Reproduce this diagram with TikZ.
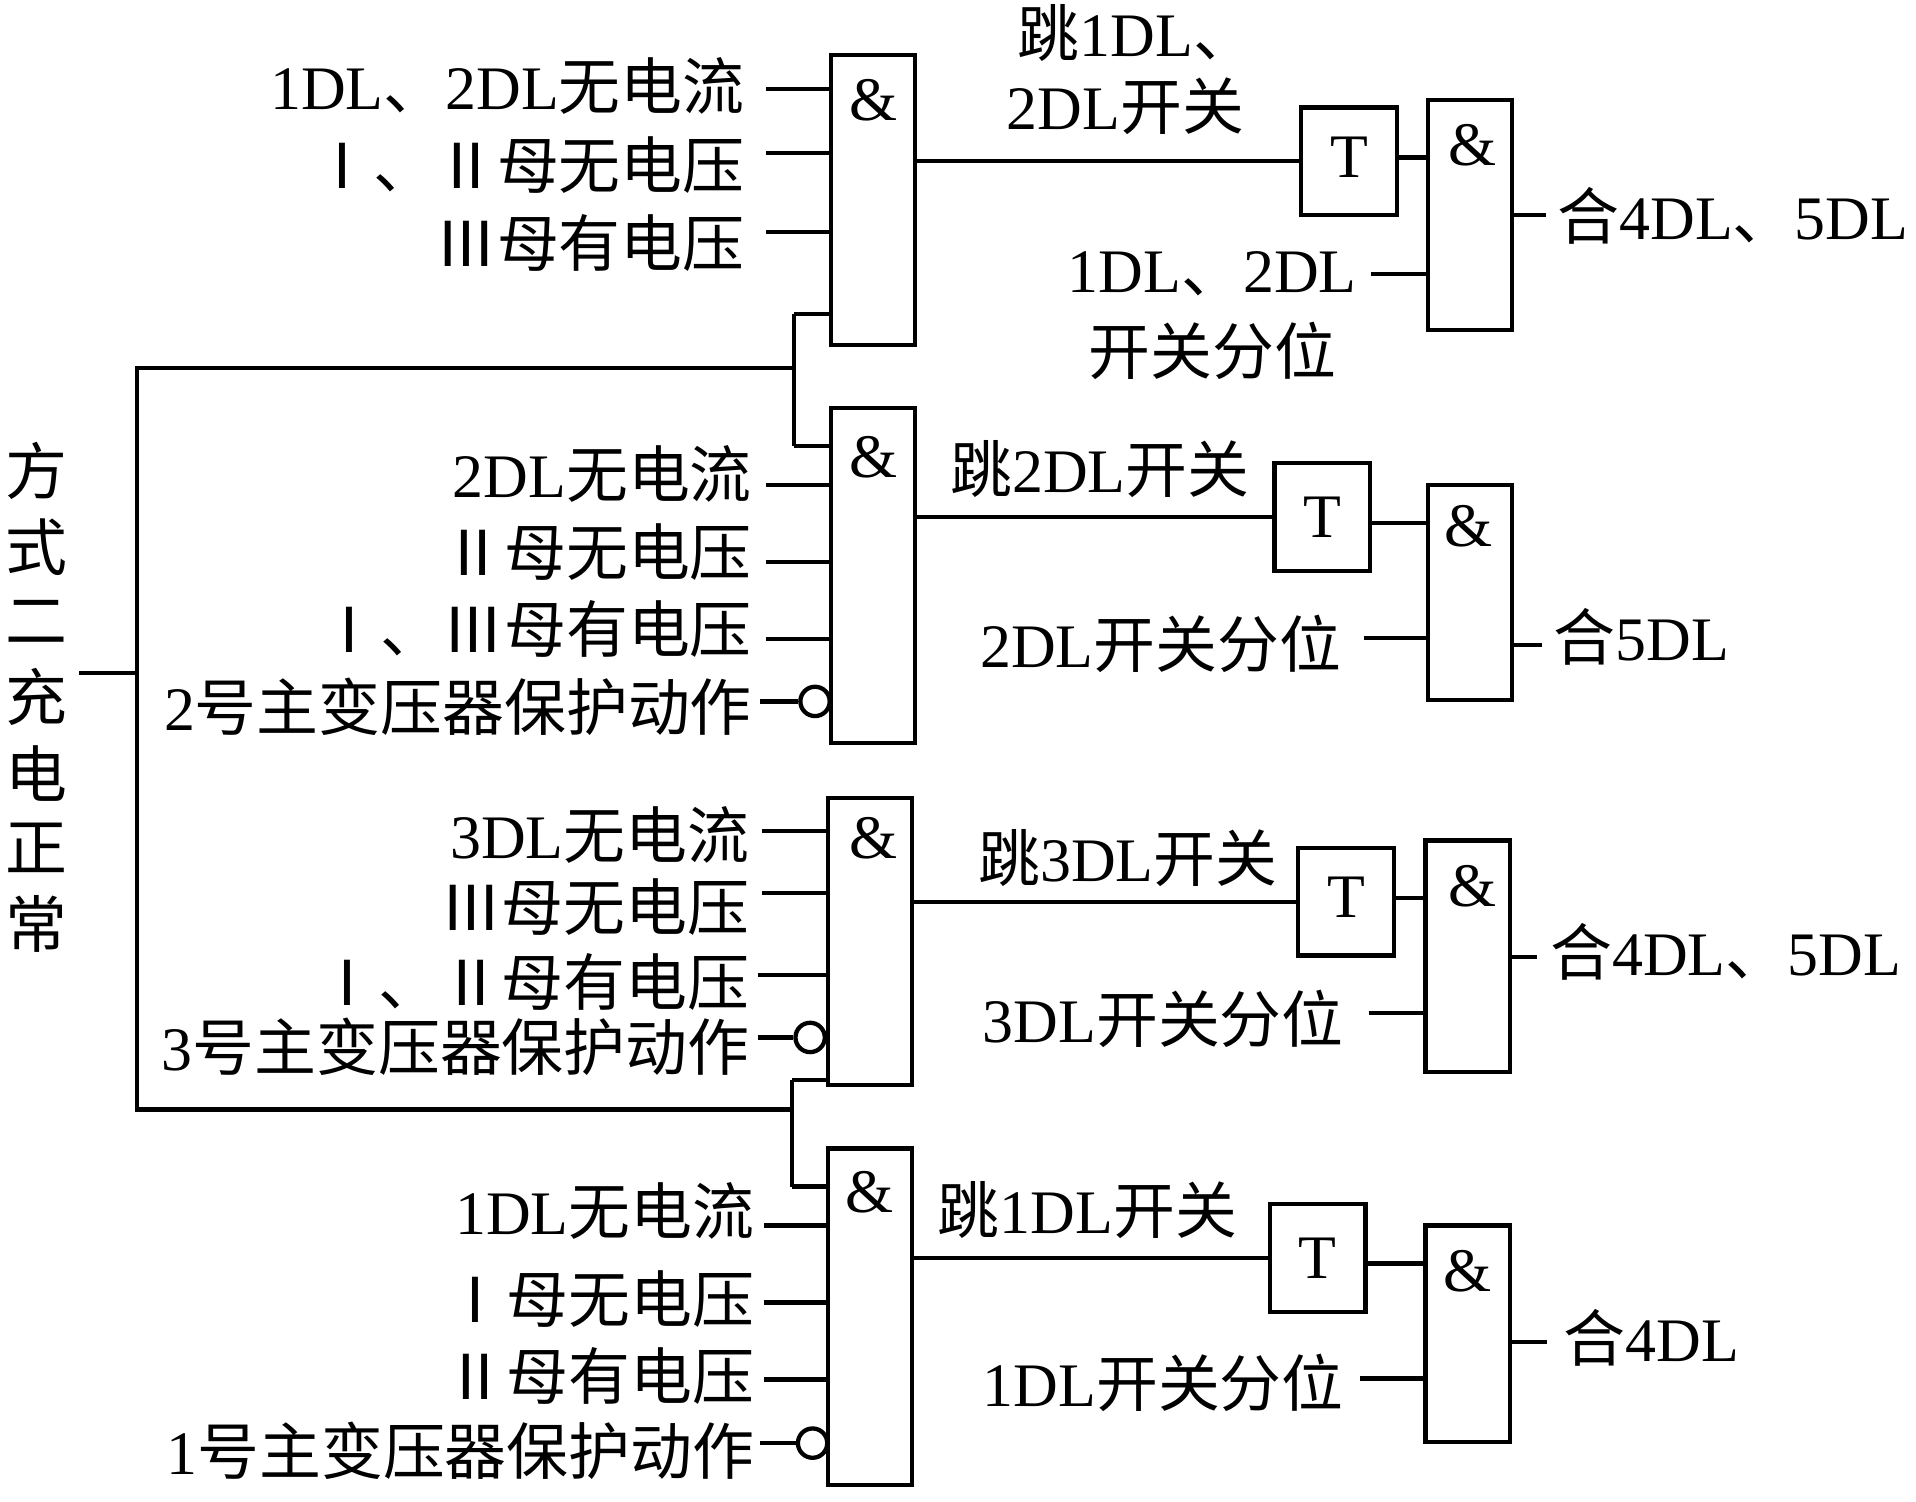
\documentclass[tikz,border=0pt]{standalone}
\usepackage{fontspec}
\setmainfont{Liberation Serif}
\newfontfamily\cjk{Noto Sans CJK SC}
\tikzset{
    lab/.style={inner sep=0pt,font=\fontsize{14.4pt}{16pt}\selectfont},
    gate/.style={draw,line width=1pt,rectangle,inner sep=0pt,minimum width=0.69cm},
    timer/.style={draw,line width=1pt,rectangle,inner sep=0pt,minimum width=0.78cm,minimum height=0.88cm,font=\fontsize{14.4pt}{16pt}\selectfont},
    inv/.style={draw,line width=1pt,circle,inner sep=0pt,minimum size=0.24cm},
    wire/.style={line width=1pt}
}
\begin{document}
\begin{tikzpicture}[x=0.01cm,y=-0.01cm]
        \useasboundingbox (0,0) rectangle (1568,1229);

        \node[gate,minimum height=2.37cm](ga1) at (714.5,163.5){};
        \node[gate,minimum height=2.74cm](ga2) at (714.5,471){};
        \node[gate,minimum height=2.35cm](ga3) at (712,770.5){};
        \node[gate,minimum height=2.75cm](ga4) at (712,1077.5){};
        \node[gate,minimum height=1.88cm](gb1) at (1203,176){};
        \node[gate,minimum height=1.76cm](gb2) at (1203,485){};
        \node[gate,minimum height=1.89cm](gb3) at (1201,782.5){};
        \node[gate,minimum height=1.77cm](gb4) at (1201,1091.5){};

        \node[lab](and1) at (715,82){\&};
        \node[lab](and2) at (715,374){\&};
        \node[lab](and3) at (715,686){\&};
        \node[lab](and4) at (712,976){\&};
        \node[lab](and5) at (1205,119){\&};
        \node[lab](and6) at (1202,431){\&};
        \node[lab](and7) at (1205,725){\&};
        \node[lab](and8) at (1201,1040){\&};

        \node[timer,text depth=0.07cm](t1) at (1104,132){T};
        \node[timer](t2) at (1082,423){T};
        \node[timer,text depth=0.07cm](t3) at (1101.5,738){T};
        \node[timer](t4) at (1078.5,1029.5){T};

        \node[lab](mode) at (30,577){\cjk\begin{tabular}{@{}c@{}}方\\[1pt]式\\[1pt]二\\[1pt]充\\[1pt]电\\[1pt]正\\[1pt]常\end{tabular}};
        \coordinate(m0) at (65,551);
        \coordinate(m1) at (112,551);
        \coordinate(m2) at (112,301);
        \coordinate(m3) at (112,908);
        \coordinate(j1) at (650,301);
        \coordinate(j2) at (648,908);
        \draw[wire](m0)--(m1);
        \draw[wire](j1)--(m2)--(m3)--(j2);
        \draw[wire](j1|-0,257)--(j1)--(j1|-0,365);
        \draw[wire](j1|-0,257)--(ga1.west|-0,257);
        \draw[wire](j1|-0,365)--(ga2.west|-0,365);
        \draw[wire](j2|-0,884)--(j2)--(j2|-0,971);
        \draw[wire](j2|-0,884)--(ga3.west|-0,884);
        \draw[wire](j2|-0,971)--(ga4.west|-0,971);

        \node[lab,anchor=east](la1) at (610,70){1DL{\cjk 、}2DL{\cjk 无电流}};
        \node[lab,anchor=east](la2) at (610,135){\cjk Ⅰ、Ⅱ母无电压};
        \node[lab,anchor=east](la3) at (610,199){\cjk Ⅲ母有电压};
        \coordinate(pa1) at (627,73);
        \coordinate(pa2) at (627,125);
        \coordinate(pa3) at (627,190);
        \draw[wire](pa1)--(pa1-|ga1.west);
        \draw[wire](pa2)--(pa2-|ga1.west);
        \draw[wire](pa3)--(pa3-|ga1.west);

        \node[lab,anchor=east](lb1) at (616,388){2DL{\cjk 无电流}};
        \node[lab,anchor=east](lb2) at (616,452){\cjk Ⅱ母无电压};
        \node[lab,anchor=east](lb3) at (616,515){\cjk Ⅰ、Ⅲ母有电压};
        \node[lab,anchor=east](lb4) at (616,578){2{\cjk 号主变压器保护动作}};
        \coordinate(pb1) at (627,397);
        \coordinate(pb2) at (627,460);
        \coordinate(pb3) at (627,523);
        \coordinate(pb4) at (622,574);
        \node[inv](nb) at (667,574){};
        \draw[wire](pb1)--(pb1-|ga2.west);
        \draw[wire](pb2)--(pb2-|ga2.west);
        \draw[wire](pb3)--(pb3-|ga2.west);
        \draw[wire](pb4)--(nb);

        \node[lab,anchor=east](lc1) at (614,683){3DL{\cjk 无电流}};
        \node[lab,anchor=east](lc2) at (614,742){\cjk Ⅲ母无电压};
        \node[lab,anchor=east](lc3) at (614,804){\cjk Ⅰ、Ⅱ母有电压};
        \node[lab,anchor=east](lc4) at (614,857){3{\cjk 号主变压器保护动作}};
        \coordinate(pc1) at (624,680);
        \coordinate(pc2) at (624,731);
        \coordinate(pc3) at (620,798);
        \coordinate(pc4) at (620,849);
        \node[inv](nc) at (663,849){};
        \draw[wire](pc1)--(pc1-|ga3.west);
        \draw[wire](pc2)--(pc2-|ga3.west);
        \draw[wire](pc3)--(pc3-|ga3.west);
        \draw[wire](pc4)--(nc);

        \node[lab,anchor=east](ld1) at (618,991){1DL{\cjk 无电流}};
        \node[lab,anchor=east](ld2) at (618,1063){\cjk Ⅰ母无电压};
        \node[lab,anchor=east](ld3) at (618,1126){\cjk Ⅱ母有电压};
        \node[lab,anchor=east](ld4) at (618,1187){1{\cjk 号主变压器保护动作}};
        \coordinate(pd1) at (625,1003);
        \coordinate(pd2) at (625,1066);
        \coordinate(pd3) at (625,1129);
        \coordinate(pd4) at (622,1181);
        \node[inv](nd) at (665,1181){};
        \draw[wire](pd1)--(pd1-|ga4.west);
        \draw[wire](pd2)--(pd2-|ga4.west);
        \draw[wire](pd3)--(pd3-|ga4.west);
        \draw[wire](pd4)--(nd);

        \draw[wire](t1.west)--(t1.west-|ga1.east);
        \draw[wire](t2.west)--(t2.west-|ga2.east);
        \draw[wire](t3.west)--(t3.west-|ga3.east);
        \draw[wire](t4.west)--(t4.west-|ga4.east);

        \draw[wire](t1.east|-0,129)--(gb1.west|-0,129);
        \draw[wire](t2.east|-0,428)--(gb2.west|-0,428);
        \draw[wire](t3.east|-0,735)--(gb3.west|-0,735);
        \draw[wire](t4.east|-0,1034)--(gb4.west|-0,1034);

        \node[lab](tr1a) at (930,27){{\cjk 跳}1DL{\cjk 、}};
        \node[lab](tr1b) at (921,87){2DL{\cjk 开关}};
        \node[lab](tr2) at (900,384){{\cjk 跳}2DL{\cjk 开关}};
        \node[lab](tr3) at (923,702){{\cjk 跳}3DL{\cjk 开关}};
        \node[lab](tr4) at (890,990){{\cjk 跳}1DL{\cjk 开关}};

        \node[lab](pos1a) at (992,224){1DL{\cjk 、}2DL};
        \node[lab](pos1b) at (992,287){\cjk 开关分位};
        \node[lab](pos2) at (950,527){2DL{\cjk 开关分位}};
        \node[lab](pos3) at (952,834){3DL{\cjk 开关分位}};
        \node[lab](pos4) at (952,1132){1DL{\cjk 开关分位}};
        \coordinate(q1) at (1122,224);
        \coordinate(q2) at (1116,522);
        \coordinate(q3) at (1120,829);
        \coordinate(q4) at (1113,1128);
        \draw[wire](q1)--(q1-|gb1.west);
        \draw[wire](q2)--(q2-|gb2.west);
        \draw[wire](q3)--(q3-|gb3.west);
        \draw[wire](q4)--(q4-|gb4.west);

        \node[lab,anchor=west](out1) at (1274,177){{\cjk 合}4DL{\cjk 、}5DL};
        \node[lab,anchor=west](out2) at (1271,521){{\cjk 合}5DL};
        \node[lab,anchor=west](out3) at (1268,779){{\cjk 合}4DL{\cjk 、}5DL};
        \node[lab,anchor=west](out4) at (1279,1095){{\cjk 合}4DL};
        \coordinate(r1) at (1265,176);
        \coordinate(r2) at (1262,528);
        \coordinate(r3) at (1258,783);
        \coordinate(r4) at (1266,1098);
        \draw[wire](gb1.east|-r1)--(r1);
        \draw[wire](gb2.east|-r2)--(r2);
        \draw[wire](gb3.east|-r3)--(r3);
        \draw[wire](gb4.east|-r4)--(r4);
\end{tikzpicture}
\end{document}
